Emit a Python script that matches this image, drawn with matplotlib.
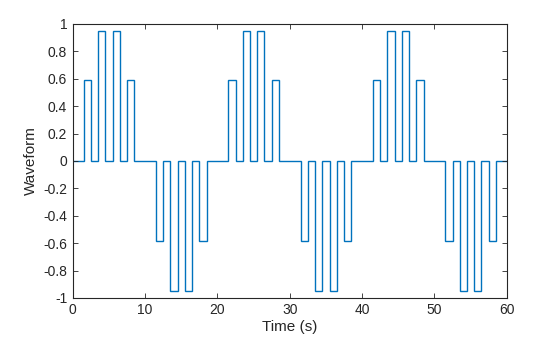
import numpy as np
import matplotlib
matplotlib.use("Agg")
import matplotlib.pyplot as plt

# one 20 s period of the pulse levels, segments of 1 s starting at t = 1.5
period_levels = [0.588, 0, 0.951, 0, 0.951, 0, 0.588, 0, 0, 0,
                 -0.588, 0, -0.951, 0, -0.951, 0, -0.588, 0, 0, 0]
n_periods = 3
first_edge = 1.5
t_end = 60

xticks = [0, 10, 20, 30, 40, 50, 60]
yticks = [-1, -0.8, -0.6, -0.4, -0.2, 0, 0.2, 0.4, 0.6, 0.8, 1]
ytick_labels = ["-1", "-0.8", "-0.6", "-0.4", "-0.2", "0", "0.2", "0.4", "0.6", "0.8", "1"]


def main():
    plt.rcParams["font.family"] = ["Liberation Sans", "DejaVu Sans"]
    plt.rcParams["axes.unicode_minus"] = False

    levels = [0.0] + period_levels * n_periods
    edges = [0.0] + [first_edge + k for k in range(len(levels) - 1)]
    edges = [e for e in edges if e < t_end]
    levels = levels[:len(edges)]
    edges = edges + [t_end]

    fig = plt.figure(figsize=(5.6, 3.37), dpi=100)
    ax = fig.add_axes([0.13, 0.116, 0.775, 0.813])
    ax.stairs(levels, edges, color="#0072BD", linewidth=1.0, baseline=None)

    ax.set_xlim(0, 60)
    ax.set_ylim(-1, 1)
    ax.set_xticks(xticks)
    ax.set_xticklabels([str(x) for x in xticks])
    ax.set_yticks(yticks)
    ax.set_yticklabels(ytick_labels)
    ax.tick_params(direction="in", top=True, right=True, length=3.5, width=0.6,
                   labelsize=10, colors="#262626", pad=4)
    for s in ax.spines.values():
        s.set_linewidth(0.8)
        s.set_color("#262626")
    ax.set_xlabel("Time (s)", fontsize=11, color="#262626", labelpad=2)
    ax.set_ylabel("Waveform", fontsize=11, color="#262626", labelpad=4)

    fig.savefig("out.png", dpi=100)
    plt.close(fig)


if __name__ == "__main__":
    main()
